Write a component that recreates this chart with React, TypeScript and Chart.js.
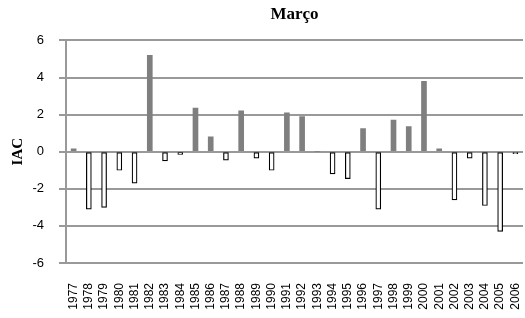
import React, { useEffect, useRef } from "react";
import { Chart, registerables } from "chart.js";

Chart.register(...registerables);

const years: string[] = [
  "1977", "1978", "1979", "1980", "1981", "1982", "1983", "1984", "1985", "1986",
  "1987", "1988", "1989", "1990", "1991", "1992", "1993", "1994", "1995", "1996",
  "1997", "1998", "1999", "2000", "2001", "2002", "2003", "2004", "2005", "2006",
];

const iacValues: number[] = [
  0.15, -3.1, -3.0, -1.0, -1.7, 5.2, -0.5, -0.15, 2.35, 0.8,
  -0.45, 2.2, -0.35, -1.0, 2.1, 1.9, 0, -1.2, -1.45, 1.25,
  -3.1, 1.7, 1.35, 3.8, 0.15, -2.6, -0.35, -2.9, -4.3, -0.1,
];

const yTicks: number[] = [-6, -4, -2, 0, 2, 4, 6];

const chartTitle = "Março";
const yTitle = "IAC";

export default function App() {
  const ref = useRef<HTMLCanvasElement | null>(null);

  useEffect(() => {
    if (!ref.current) return;
    const chart = new Chart(ref.current, {
      type: "bar",
      data: {
        labels: years,
        datasets: [
          {
            data: iacValues,
            backgroundColor: iacValues.map((v) => (v >= 0 ? "#7f7f7f" : "#ffffff")),
            borderColor: iacValues.map((v) => (v >= 0 ? "#7f7f7f" : "#000000")),
            borderWidth: iacValues.map((v) => (v >= 0 ? 0 : 1.2)),
            barThickness: 5,
            borderSkipped: false,
          },
        ],
      },
      options: {
        responsive: false,
        animation: false,
        maintainAspectRatio: false,
        layout: { padding: { left: 0, right: 2, top: 0, bottom: 0 } },
        plugins: {
          legend: { display: false },
          tooltip: { enabled: false },
          title: {
            display: true,
            text: chartTitle,
            fullSize: false,
            color: "#000",
            font: { family: "'Liberation Serif', 'Times New Roman', serif", size: 17, weight: "bold" },
            padding: { top: 4, bottom: 16 },
          },
        },
        scales: {
          x: {
            grid: { display: false },
            border: { display: false },
            ticks: {
              color: "#000",
              minRotation: 90,
              maxRotation: 90,
              autoSkip: false,
              padding: 12,
              font: { family: "'Liberation Sans', Arial, sans-serif", size: 12 },
            },
            afterFit: (s: any) => {
              s.height = 55;
              s.paddingLeft = 0;
              s.paddingRight = 0;
            },
          },
          y: {
            min: -6,
            max: 6,
            afterBuildTicks: (s: any) => {
              s.ticks = yTicks.map((v) => ({ value: v }));
            },
            grid: {
              color: "#999999",
              lineWidth: 2,
              drawTicks: true,
              tickLength: 7,
            },
            border: { display: true, color: "#999999", width: 2 },
            ticks: {
              color: "#000",
              padding: 15,
              font: { family: "'Liberation Sans', Arial, sans-serif", size: 13 },
            },
            title: {
              display: true,
              text: yTitle,
              color: "#000",
              font: { family: "'Liberation Serif', 'Times New Roman', serif", size: 15, weight: "bold" },
              padding: { top: 9, bottom: 0 },
            },
            afterFit: (s: any) => {
              s.width = 66;
            },
          },
        },
      },
    });
    return () => chart.destroy();
  }, []);

  return (
    <div style={{ position: "fixed", left: 0, top: 0, width: 525, height: 318, background: "#fff" }}>
      <canvas ref={ref} width={525} height={318} style={{ display: "block" }} />
    </div>
  );
}
